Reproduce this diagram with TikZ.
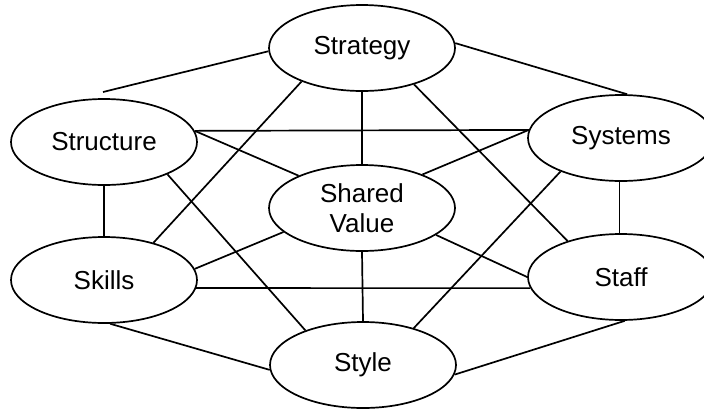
\documentclass[tikz,border=0pt]{standalone}
\usepackage{fontspec}
\setmainfont{Liberation Sans}
\usetikzlibrary{shapes.geometric}
\begin{document}
\begin{tikzpicture}[x=1pt,y=-1pt,
  elem/.style={ellipse,draw,line width=1.7pt,minimum width=186pt,minimum height=86pt,
    inner sep=0pt,align=center,font=\fontsize{26}{30}\selectfont},
  link/.style={line width=1.7pt}]
\path[use as bounding box] (0,0) rectangle (704,410);
\clip (0,0) rectangle (704,410);

% the seven elements
\node[elem] (strategy)  at (362,48)  {Strategy};
\node[elem] (structure) at (104,142) {Structure};
\node[elem] (systems)   at (621,138) {Systems};
\node[elem] (shared)    at (362,208) {Shared\\Value};
\node[elem] (skills)    at (104,280) {Skills};
\node[elem] (staff)     at (621,277) {Staff};
\node[elem] (style)     at (363,365) {Style};

\coordinate (structtop) at (103,92);

% links from Strategy
\draw[link] (strategy.182) -- (structtop);
\draw[link] (strategy.3) -- (systems.82);
\draw[link] (strategy.209) -- (skills.37);
\draw[link] (strategy.south) -- (shared.north);
\draw[link] (strategy.325) -- (staff.146);

% links from Structure
\draw[link] (structure.7) -- (systems.175);
\draw[link] (structure.7) -- (shared.153);
\draw[link] (structure.south) -- (skills.north);
\draw[link] (structure.333) -- (style.149);

% links from Systems
\draw[link] (systems.175) -- (shared.29);
\draw[link] (systems.209) -- (style.36);
\draw[link] (systems.268) -- (staff.92);

% links from Shared Value
\draw[link] (shared.197) -- (skills.7);
\draw[link] (shared.340) -- (staff.180);
\draw[link] (shared.south) -- (style.north);

% remaining links
\draw[link] (skills.355) -- (staff.187);
\draw[link] (skills.278) -- (style.183);
\draw[link] (style.354) -- (staff.275);
\end{tikzpicture}
\end{document}
